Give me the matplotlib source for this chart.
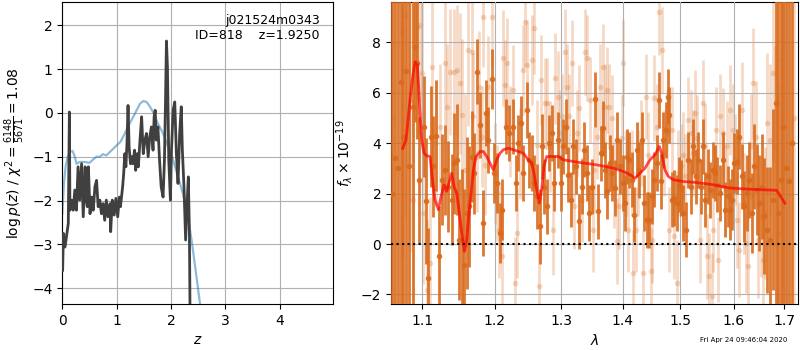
import matplotlib
matplotlib.use("Agg")
import matplotlib.pyplot as plt
from matplotlib.ticker import NullLocator, FixedLocator, FixedFormatter

# ---------------- left panel data ----------------
z_black = [0.006, 0.02, 0.05, 0.08, 0.11, 0.13, 0.14, 0.17, 0.20, 0.23, 0.26, 0.29, 0.32, 0.355,
           0.385, 0.42, 0.44, 0.46, 0.48, 0.51, 0.54, 0.57, 0.60, 0.63, 0.66, 0.69, 0.72, 0.75,
           0.78, 0.81, 0.84, 0.88, 0.89, 0.92, 0.955, 0.986, 1.02, 1.05, 1.07, 1.11, 1.13, 1.15,
           1.17, 1.19, 1.21, 1.23, 1.255, 1.28, 1.30, 1.33, 1.35, 1.38, 1.40, 1.43, 1.46, 1.49,
           1.52, 1.55, 1.58, 1.61, 1.64, 1.67, 1.69, 1.71, 1.73, 1.76, 1.79, 1.82, 1.855, 1.88,
           1.90, 1.917, 1.935, 1.96, 1.99, 2.01, 2.04, 2.07, 2.10, 2.13, 2.16, 2.19, 2.21, 2.24,
           2.27, 2.30, 2.32, 2.34, 2.35, 2.36]
logp_black = [-3.59, -2.75, -3.06, -2.79, -2.52, 0.02, -2.22, -1.99, -2.22, -1.76, -2.22, -1.23,
              -1.99, -1.16, -2.37, -1.23, -1.99, -2.14, -1.23, -2.30, -1.92, -2.22, -1.69, -1.54,
              -2.14, -1.99, -2.30, -2.07, -2.45, -1.99, -2.37, -2.07, -2.71, -1.99, -2.33, -1.95,
              -2.37, -1.92, -2.14, -1.69, -1.38, -0.93, -1.23, -0.70, 0.17, -0.78, -1.16, -1.00,
              -1.16, -0.85, -1.31, -0.93, -1.23, -0.62, -0.09, -0.93, -0.62, -0.47, -1.00, -0.55,
              -0.32, -0.85, -0.09, 0.06, -0.62, -0.32, -1.08, -1.69, -1.92, -1.08, 0.29, 1.64,
              1.05, -1.08, -1.99, -0.85, 0.06, 0.25, -0.93, -1.61, -0.47, 0.14, -0.85, -1.69,
              -2.90, -1.99, -1.46, -2.75, -4.35, -8.0]

z_blue = [0.0, 0.03, 0.06, 0.10, 0.14, 0.19, 0.23, 0.26, 0.32, 0.42, 0.50, 0.57, 0.63, 0.69,
          0.75, 0.81, 0.91, 1.00, 1.07, 1.15, 1.24, 1.335, 1.43, 1.49, 1.55, 1.61, 1.67, 1.76,
          1.855, 1.95, 2.04, 2.13, 2.22, 2.31, 2.38, 2.47, 2.53, 2.60]
logp_blue = [-2.30, -1.61, -1.23, -1.00, -0.89, -0.87, -1.00, -1.16, -1.12, -1.12, -1.14, -1.06,
             -1.00, -1.00, -0.94, -0.97, -0.85, -0.74, -0.66, -0.47, -0.24, -0.02, 0.21, 0.27,
             0.25, 0.15, 0.02, -0.24, -0.47, -0.78, -1.08, -1.46, -1.84, -2.37, -2.90, -3.74,
             -4.31, -4.95]

# ---------------- right panel data ----------------
wave_dark = [1.0600, 1.0644, 1.0680, 1.0721, 1.0743, 1.0786, 1.0829, 1.0873, 1.0903, 1.0934,
             1.0960, 1.1022, 1.1044, 1.1071, 1.1111, 1.1146, 1.1182, 1.1227, 1.1259, 1.1304,
             1.1349, 1.1395, 1.1427, 1.1464, 1.1500, 1.1533, 1.1570, 1.1602, 1.1640, 1.1672,
             1.1710, 1.1752, 1.1790, 1.1837, 1.1875, 1.1908, 1.1956, 1.1995, 1.2038, 1.2077,
             1.2111, 1.2164, 1.2203, 1.2262, 1.2316, 1.2345, 1.2380, 1.2420, 1.2470, 1.2510,
             1.2545, 1.2581, 1.2621, 1.2672, 1.2697, 1.2733, 1.2774, 1.2805, 1.2851, 1.2887,
             1.2944, 1.2990, 1.3032, 1.3069, 1.3111, 1.3159, 1.3191, 1.3233, 1.3281, 1.3323,
             1.3366, 1.3404, 1.3447, 1.3490, 1.3539, 1.3593, 1.3637, 1.3664, 1.3708, 1.3741,
             1.3785, 1.3825, 1.3874, 1.3908, 1.3952, 1.3997, 1.4036, 1.4064, 1.4103, 1.4149,
             1.4194, 1.4234, 1.4279, 1.4325, 1.4365, 1.4405, 1.4451, 1.4492, 1.4534, 1.4580,
             1.4615, 1.4656, 1.4697, 1.4738, 1.4773, 1.4803, 1.4844, 1.4892, 1.4934, 1.4970,
             1.5012, 1.5054, 1.5102, 1.5145, 1.5193, 1.5236, 1.5279, 1.5317, 1.5372, 1.5409,
             1.5452, 1.5502, 1.5545, 1.5595, 1.5639, 1.5683, 1.5733, 1.5784, 1.5835, 1.5879,
             1.5924, 1.5968, 1.6006, 1.6065, 1.6104, 1.6155, 1.6194, 1.6246, 1.6298, 1.6344,
             1.6390, 1.6442, 1.6488, 1.6541, 1.6594, 1.6640, 1.6707, 1.6774, 1.6828, 1.6876,
             1.6923, 1.6978, 1.7040, 1.7100, 1.7160]
flux_dark = [2.00, 3.41, 3.00, 6.44, 4.26, 6.88, 3.08, 5.45, 7.83, 7.17,
             2.55, 4.66, 1.69, -1.35, 4.26, 3.08, 4.29, -0.49, 2.55, 2.94,
             2.28, 1.76, 3.21, 3.34, 0.17, 0.17, -0.82, 1.23, 1.49, 3.47,
             2.81, 6.84, 4.73, 0.83, 5.19, 4.13, 6.55, 2.81, 2.42, 0.44,
             1.36, 4.66, 4.40, 4.66, 2.42, 4.00, 4.79, 2.81, 5.32, 3.34,
             3.21, 2.42, 1.89, 0.70, 3.87, 2.28, 1.49, 4.00, 4.40, 2.42,
             4.13, 2.42, 3.87, 4.66, 2.75, 1.76, 3.87, 3.08, 0.90, 2.28,
             3.74, 2.81, 1.23, 2.28, 5.74, 1.29, 3.60, 4.59, 2.94, 2.09,
             3.21, 2.81, 2.22, 4.13, 3.08, 2.42, 1.62, 3.47, 3.34, 2.55,
             1.16, 3.74, 2.94, 4.13, 1.62, 0.96, 0.96, 1.89, 2.55, 3.21,
             5.72, 2.48, 4.13, 4.53, 5.85, 5.12, 1.76, 1.82, 1.62, 2.35,
             2.22, 1.23, 0.57, 3.34, 2.28, 3.87, 2.68, 3.34, 2.28, 3.87,
             1.76, 2.68, 2.15, 2.94, 2.81, 2.35, 2.02, 3.34, 1.36, 1.89,
             1.36, 1.76, 3.21, 3.27, 4.26, 2.68, 1.49, 2.02, 2.55, 1.23,
             3.08, 2.15, 1.62, 2.28, 1.10, 0.57, 0.17, 1.76, 5.58, 1.23,
             2.55, 4.66, 3.00, 2.50, 4.00]
err_dark = [14.0, 14.0, 14.0, 13.0, 12.0, 11.0, 10.0, 8.0, 3.0, 3.0,
            2.5, 2.0, 2.5, 2.0, 2.0, 2.0, 2.2, 2.0, 1.8, 1.8,
            1.8, 1.8, 2.0, 2.2, 2.4, 2.8, 3.0, 3.0, 2.4, 1.8,
            1.6, 1.3, 1.3, 1.3, 1.3, 1.3, 1.2, 1.2, 1.2, 1.2,
            1.2, 1.1, 1.1, 1.1, 1.1, 1.1, 1.1, 1.1, 1.1, 1.1,
            1.1, 1.1, 1.3, 1.5, 1.3, 1.1, 1.1, 1.1, 1.1, 1.1,
            1.1, 1.1, 1.1, 1.1, 1.1, 1.1, 1.1, 1.1, 1.1, 1.1,
            1.1, 1.1, 1.1, 1.1, 1.1, 1.1, 1.1, 1.1, 1.1, 1.1,
            1.1, 1.1, 1.1, 1.1, 1.1, 1.1, 1.1, 1.1, 1.1, 1.1,
            1.1, 1.1, 1.1, 1.1, 1.1, 1.1, 1.1, 1.1, 1.1, 1.1,
            1.1, 1.1, 1.1, 1.1, 1.1, 1.1, 1.1, 1.1, 1.1, 1.1,
            1.1, 1.1, 1.1, 1.1, 1.1, 1.1, 1.1, 1.1, 1.1, 1.1,
            1.1, 1.1, 1.1, 1.1, 1.1, 1.1, 1.1, 1.1, 1.1, 1.2,
            1.2, 1.2, 1.2, 1.3, 1.3, 1.3, 1.4, 1.5, 1.5, 1.6,
            1.7, 1.8, 1.9, 2.1, 2.3, 2.5, 2.9, 3.6, 9.0, 11.0,
            12.0, 13.0, 14.0, 14.0, 14.0]

wave_light = [1.0620, 1.0730, 1.0773, 1.0838, 1.0882, 1.0934, 1.0969, 1.0991, 1.1013, 1.1057,
              1.1102, 1.1124, 1.1182, 1.1236, 1.1304, 1.1336, 1.1372, 1.1427, 1.1464, 1.1510,
              1.1533, 1.1580, 1.1626, 1.1672, 1.1696, 1.1743, 1.1781, 1.1814, 1.1837, 1.1861,
              1.1908, 1.1966, 1.2004, 1.2028, 1.2067, 1.2101, 1.2125, 1.2150, 1.2174, 1.2223,
              1.2262, 1.2296, 1.2321, 1.2370, 1.2410, 1.2445, 1.2470, 1.2545, 1.2581, 1.2621,
              1.2651, 1.2687, 1.2748, 1.2784, 1.2825, 1.2866, 1.2903, 1.2955, 1.2980, 1.3006,
              1.3059, 1.3095, 1.3127, 1.3164, 1.3207, 1.3244, 1.3286, 1.3323, 1.3382, 1.3415,
              1.3458, 1.3501, 1.3523, 1.3566, 1.3621, 1.3664, 1.3703, 1.3730, 1.3774, 1.3813,
              1.3852, 1.3897, 1.3941, 1.3980, 1.4008, 1.4053, 1.4092, 1.4149, 1.4177, 1.4223,
              1.4262, 1.4302, 1.4348, 1.4394, 1.4434, 1.4474, 1.4498, 1.4533, 1.4580, 1.4627,
              1.4668, 1.4709, 1.4756, 1.4803, 1.4844, 1.4892, 1.4934, 1.4964, 1.5006, 1.5054,
              1.5084, 1.5133, 1.5187, 1.5224, 1.5267, 1.5310, 1.5359, 1.5409, 1.5452, 1.5483,
              1.5533, 1.5576, 1.5608, 1.5658, 1.5702, 1.5733, 1.5784, 1.5828, 1.5873, 1.5924,
              1.5988, 1.6020, 1.6065, 1.6104, 1.6149, 1.6194, 1.6233, 1.6279, 1.6325, 1.6377,
              1.6430, 1.6476, 1.6522, 1.6575, 1.6608, 1.6655, 1.6707, 1.6761, 1.6808, 1.6876,
              1.6944, 1.7050, 1.7200]
flux_light = [5.00, 8.42, 9.08, 5.72, 1.76, 8.62, 8.69, 6.77, 1.23, -1.81,
              -0.75, 7.04, 4.00, 4.66, 7.17, 5.45, 6.84, 6.84, 6.90, 6.38,
              5.12, 2.94, 7.70, 7.63, 5.06, 3.47, 6.24, 4.26, 9.02, 3.14,
              6.24, 9.02, 2.81, 2.02, 0.57, -0.49, 7.37, 6.31, 7.17, 4.46,
              6.11, -1.54, 0.44, 3.60, 6.90, 8.82, 7.10, 7.30, 8.55, 3.93,
              -1.68, 6.51, 5.58, 5.58, 3.87, 0.57, 6.57, 5.85, 4.40, 5.06,
              7.63, 6.24, 5.06, 7.17, 1.49, 4.40, 5.39, 1.76, 7.63, 7.37,
              5.72, 0.57, 2.94, 4.26, 6.24, 7.04, 5.45, 6.11, 5.45, 4.99,
              2.35, 0.11, 1.49, 4.20, 7.17, 2.81, 0.57, 2.81, -1.15, 0.57,
              2.81, 4.00, -1.15, 5.85, 3.54, -1.08, 0.17, 5.78, 4.66, 9.21,
              7.70, 3.60, 4.40, 0.57, 4.53, 0.30, -1.54, 2.81, 3.08, 3.54,
              2.68, 4.92, 4.40, 3.60, 5.19, 4.20, 0.17, 5.58, 3.87, -0.49,
              -1.28, -2.07, 0.57, 4.53, -0.62, 5.06, 4.40, 2.15, 3.87, 5.32,
              4.53, 3.34, 0.96, -0.22, 5.32, 1.62, 0.04, -0.88, 3.87, 6.38,
              4.26, 0.17, 1.10, -0.62, 1.23, 4.79, 4.13, 6.77, 3.87, 0.44,
              7.30, 3.00, 5.00]
err_light = [14.0, 9.0, 8.0, 6.0, 4.0, 3.0, 3.0, 3.0, 2.8, 2.8,
             2.6, 2.6, 2.5, 2.5, 2.5, 2.5, 2.5, 2.5, 2.6, 2.8,
             3.0, 3.0, 3.0, 2.8, 2.5, 2.2, 2.2, 2.0, 2.0, 2.0,
             2.0, 2.0, 2.0, 1.9, 1.9, 1.9, 1.9, 1.8, 1.8, 1.8,
             1.8, 1.8, 1.8, 1.8, 1.8, 1.8, 1.8, 1.8, 1.8, 1.8,
             1.8, 1.8, 1.8, 1.8, 1.8, 1.8, 1.8, 1.8, 1.7, 1.7,
             1.7, 1.7, 1.7, 1.7, 1.7, 1.7, 1.7, 1.7, 1.7, 1.7,
             1.7, 1.7, 1.7, 1.7, 1.7, 1.7, 1.7, 1.7, 1.7, 1.7,
             1.7, 1.7, 1.7, 1.7, 1.7, 1.7, 1.7, 1.7, 1.7, 1.7,
             1.7, 1.7, 1.7, 1.7, 1.7, 1.7, 1.7, 1.7, 1.7, 1.7,
             1.7, 1.7, 1.7, 1.7, 1.7, 1.7, 1.7, 1.7, 1.7, 1.7,
             1.7, 1.7, 1.7, 1.7, 1.7, 1.7, 1.7, 1.7, 1.7, 1.7,
             1.7, 1.7, 1.7, 1.7, 1.7, 1.7, 1.8, 1.8, 1.8, 1.8,
             1.8, 1.8, 1.9, 1.9, 1.9, 2.0, 2.0, 2.0, 2.1, 2.2,
             2.2, 2.3, 2.4, 2.5, 2.6, 2.8, 3.0, 3.5, 4.0, 6.0,
             9.0, 14.0, 14.0]

wave_model = [1.0743, 1.0786, 1.0838, 1.0873, 1.0903, 1.0934, 1.0960, 1.0991, 1.1022, 1.1057,
              1.1102, 1.1124, 1.1168, 1.1214, 1.1250, 1.1291, 1.1327, 1.1363, 1.1395, 1.1427,
              1.1464, 1.1500, 1.1533, 1.1570, 1.1602, 1.1630, 1.1663, 1.1696, 1.1733, 1.1790,
              1.1837, 1.1885, 1.1932, 1.1980, 1.2028, 1.2077, 1.2125, 1.2198, 1.2272, 1.2345,
              1.2420, 1.2495, 1.2545, 1.2581, 1.2621, 1.2662, 1.2697, 1.2733, 1.2774, 1.2825,
              1.2877, 1.2955, 1.3032, 1.3297, 1.3566, 1.3841, 1.4008, 1.4120, 1.4206, 1.4291,
              1.4378, 1.4464, 1.4552, 1.4627, 1.4668, 1.4727, 1.4786, 1.4876, 1.5054, 1.5298,
              1.5608, 1.5924, 1.6246, 1.6575, 1.6844, 1.6923, 1.7010]
flux_model = [3.80, 4.13, 5.72, 6.64, 7.23, 7.10, 5.72, 4.13, 3.60, 3.50,
              3.47, 2.81, 1.76, 1.36, 1.89, 2.35, 2.09, 2.48, 2.81, 2.28,
              2.02, 1.23, 0.44, -0.29, 0.17, 1.10, 2.02, 2.94, 3.47, 3.67,
              3.67, 3.47, 3.21, 2.94, 3.34, 3.60, 3.74, 3.80, 3.74, 3.67,
              3.60, 3.34, 3.21, 2.81, 2.15, 1.62, 2.15, 3.08, 3.47, 3.47,
              3.47, 3.47, 3.34, 3.23, 3.14, 3.01, 2.88, 2.75, 2.61, 2.81,
              3.01, 3.34, 3.54, 3.87, 3.60, 2.94, 2.68, 2.55, 2.48, 2.44,
              2.35, 2.22, 2.18, 2.15, 2.13, 1.89, 1.62]

wave_ticks = [1.1, 1.2, 1.3, 1.4, 1.5, 1.6, 1.7]
wave_tick_labels = ['1.1', '1.2', '1.3', '1.4', '1.5', '1.6', '1.7']

# ---------------- figure ----------------
fig = plt.figure(figsize=(8, 3.5), dpi=100)
ax1 = fig.add_axes([0.0779, 0.1314, 0.3388, 0.8629])
ax2 = fig.add_axes([0.4888, 0.1314, 0.5091, 0.8629])

ax1.plot(z_black, logp_black, color='0.25', lw=2, zorder=3)
ax1.plot(z_blue, logp_blue, color='C0', alpha=0.5, lw=1.6, zorder=2)
ax1.set_xlim(0, 4.99)
ax1.set_ylim(-4.36, 2.53)
ax1.set_xticks([0, 1, 2, 3, 4])
ax1.set_yticks([-4, -3, -2, -1, 0, 1, 2])
ax1.grid(True)
ax1.set_axisbelow(True)
ax1.set_xlabel(r'$z$')
ax1.set_ylabel(r'$\log p(z)$ / $\chi^2=\frac{6148}{5671}=1.08$')
ax1.text(0.95, 0.96, 'j021524m0343\nID=818    z=1.9250', transform=ax1.transAxes,
         ha='right', va='top', fontsize=9)

dark = '#d96a1c'
ax2.errorbar(wave_light, flux_light, yerr=err_light, fmt='o', color=dark, alpha=0.25,
             ms=4, elinewidth=2, capsize=0, markeredgewidth=0, zorder=2)
ax2.errorbar(wave_dark, flux_dark, yerr=err_dark, fmt='o', color=dark, alpha=0.9,
             ms=4, elinewidth=2, capsize=0, markeredgewidth=0, zorder=3)
ax2.plot(wave_model, flux_model, color='r', alpha=0.7, lw=2, zorder=4)
ax2.axhline(0, color='k', ls=':', lw=1.5, zorder=5)
ax2.set_xscale('log')
ax2.set_xlim(1.0593, 1.7289)
ax2.xaxis.set_major_locator(FixedLocator(wave_ticks))
ax2.xaxis.set_major_formatter(FixedFormatter(wave_tick_labels))
ax2.xaxis.set_minor_locator(NullLocator())
ax2.set_ylim(-2.38, 9.6)
ax2.set_yticks([-2, 0, 2, 4, 6, 8])
ax2.grid(True)
ax2.set_axisbelow(False)
for gl in ax2.get_xgridlines() + ax2.get_ygridlines():
    gl.set_zorder(4.5)
ax2.set_xlabel(r'$\lambda$')
ax2.set_ylabel(r'$f_\lambda\times10^{-19}$')

fig.text(0.984, 0.029, 'Fri Apr 24 09:46:04 2020', ha='right', va='center', fontsize=5)

fig.savefig('out.png', dpi=100)
